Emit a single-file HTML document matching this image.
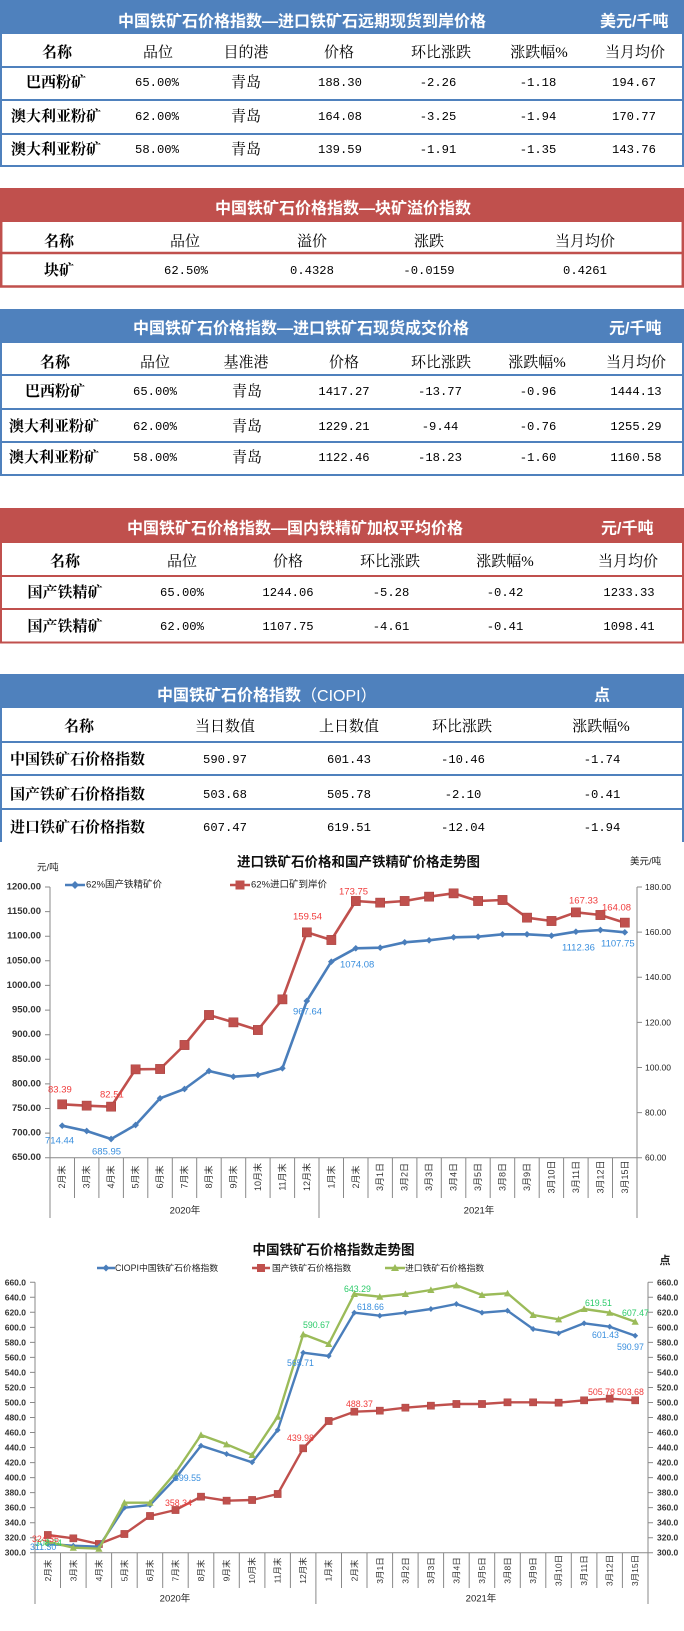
<!DOCTYPE html>
<html><head><meta charset="utf-8">
<style>
html,body{margin:0;padding:0;background:#fff;}
svg{display:block;}
text{dominant-baseline:central;}
.t{font-family:"Liberation Sans","Noto Sans CJK SC",sans-serif;font-weight:bold;font-size:16px;fill:#fff;}
.h{font-family:"Liberation Serif","Noto Serif CJK SC",serif;font-size:15px;fill:#000;text-anchor:middle;}
.hb{font-family:"Liberation Serif","Noto Serif CJK SC",serif;font-size:15px;font-weight:bold;fill:#000;text-anchor:middle;}
.hbl{font-family:"Liberation Serif","Noto Serif CJK SC",serif;font-size:15px;font-weight:bold;fill:#000;text-anchor:start;}
.n{font-family:"Liberation Mono",monospace;font-size:12.2px;fill:#000;text-anchor:middle;}
.ax{font-family:"Liberation Sans","Noto Sans CJK SC",sans-serif;font-size:9.5px;fill:#222;}
.ax2{font-family:"Liberation Sans","Noto Sans CJK SC",sans-serif;font-size:8.5px;fill:#333;font-weight:bold;}
.cat{font-family:"Liberation Sans","Noto Sans CJK SC",sans-serif;font-size:9px;fill:#333;text-anchor:middle;}
.cat2{font-family:"Liberation Sans","Noto Sans CJK SC",sans-serif;font-size:8.5px;fill:#333;text-anchor:middle;}
.ct{font-family:"Liberation Sans","Noto Sans CJK SC",sans-serif;font-size:13.5px;font-weight:bold;fill:#111;text-anchor:middle;}
.lg{font-family:"Liberation Sans","Noto Sans CJK SC",sans-serif;font-size:9.5px;fill:#222;}
.lb{font-family:"Liberation Sans",sans-serif;font-size:9.5px;}
.lb2{font-family:"Liberation Sans",sans-serif;font-size:8.8px;}
</style></head>
<body>
<svg width="684" height="1631" viewBox="0 0 684 1631" xmlns="http://www.w3.org/2000/svg">
<defs>
<marker id="dia" viewBox="-5 -5 10 10" markerWidth="8" markerHeight="8" markerUnits="userSpaceOnUse" refX="0" refY="0"><path d="M0,-4.2L4.2,0L0,4.2L-4.2,0Z" fill="#4a7ebb"/></marker>
<marker id="sq" viewBox="-5 -5 10 10" markerWidth="10" markerHeight="10" markerUnits="userSpaceOnUse" refX="0" refY="0"><rect x="-4.6" y="-4.6" width="9.2" height="9.2" fill="#c0504d" stroke="#a8403d" stroke-width="0.6"/></marker>
<marker id="dia2" viewBox="-5 -5 10 10" markerWidth="7" markerHeight="7" markerUnits="userSpaceOnUse" refX="0" refY="0"><path d="M0,-4.2L4.2,0L0,4.2L-4.2,0Z" fill="#4a7ebb"/></marker>
<marker id="sq2" viewBox="-5 -5 10 10" markerWidth="8" markerHeight="8" markerUnits="userSpaceOnUse" refX="0" refY="0"><rect x="-4.5" y="-4.5" width="9" height="9" fill="#c0504d" stroke="#a8403d" stroke-width="0.6"/></marker>
<marker id="tri2" viewBox="-5 -5 10 10" markerWidth="8" markerHeight="8" markerUnits="userSpaceOnUse" refX="0" refY="0"><path d="M0,-4.5L4.5,3.8L-4.5,3.8Z" fill="#9bbb59"/></marker>
</defs>

<!-- TABLE 1 -->
<rect x="0" y="0" width="684" height="34" fill="#4f81bd"/>
<text class="t" x="118" y="22">中国铁矿石价格指数—进口铁矿石远期现货到岸价格</text>
<text class="t" x="600" y="22">美元/千吨</text>
<path d="M1,34V166M683,34V166M0,67H684M0,100H684M0,134H684M0,166H684" stroke="#4f81bd" stroke-width="2" fill="none"/>
<text class="hb" x="57" y="53">名称</text>
<text class="h" x="158" y="53">品位</text>
<text class="h" x="246" y="53">目的港</text>
<text class="h" x="339" y="53">价格</text>
<text class="h" x="441" y="53">环比涨跌</text>
<text class="h" x="539" y="53">涨跌幅%</text>
<text class="h" x="635" y="53">当月均价</text>
<text class="hb" x="56" y="83">巴西粉矿</text><text class="n" x="157" y="83">65.00%</text><text class="h" x="246" y="83">青岛</text><text class="n" x="340" y="83">188.30</text><text class="n" x="438" y="83">-2.26</text><text class="n" x="538" y="83">-1.18</text><text class="n" x="634" y="83">194.67</text>
<text class="hb" x="56" y="117">澳大利亚粉矿</text><text class="n" x="157" y="117">62.00%</text><text class="h" x="246" y="117">青岛</text><text class="n" x="340" y="117">164.08</text><text class="n" x="438" y="117">-3.25</text><text class="n" x="538" y="117">-1.94</text><text class="n" x="634" y="117">170.77</text>
<text class="hb" x="56" y="150">澳大利亚粉矿</text><text class="n" x="157" y="150">58.00%</text><text class="h" x="246" y="150">青岛</text><text class="n" x="340" y="150">139.59</text><text class="n" x="438" y="150">-1.91</text><text class="n" x="538" y="150">-1.35</text><text class="n" x="634" y="150">143.76</text>

<!-- TABLE 2 -->
<rect x="0" y="188" width="684" height="34" fill="#c0504d"/>
<text class="t" x="343" y="209" style="text-anchor:middle">中国铁矿石价格指数—块矿溢价指数</text>
<path d="M1.2,222V287M682.8,222V287M0,253H684M0,286.5H684" stroke="#c0504d" stroke-width="2.5" fill="none"/>
<text class="hb" x="59" y="242">名称</text>
<text class="h" x="185" y="242">品位</text>
<text class="h" x="312" y="242">溢价</text>
<text class="h" x="429" y="242">涨跌</text>
<text class="h" x="585" y="242">当月均价</text>
<text class="hb" x="59" y="271">块矿</text><text class="n" x="186" y="271">62.50%</text><text class="n" x="312" y="271">0.4328</text><text class="n" x="429" y="271">-0.0159</text><text class="n" x="585" y="271">0.4261</text>

<!-- TABLE 3 -->
<rect x="0" y="309" width="684" height="34" fill="#4f81bd"/>
<text class="t" x="133" y="329">中国铁矿石价格指数—进口铁矿石现货成交价格</text>
<text class="t" x="609" y="329">元/千吨</text>
<path d="M1,343V475M683,343V475M0,375H684M0,409H684M0,442H684M0,475H684" stroke="#4f81bd" stroke-width="2" fill="none"/>
<text class="hb" x="55" y="363">名称</text>
<text class="h" x="155" y="363">品位</text>
<text class="h" x="246" y="363">基准港</text>
<text class="h" x="344" y="363">价格</text>
<text class="h" x="441" y="363">环比涨跌</text>
<text class="h" x="537" y="363">涨跌幅%</text>
<text class="h" x="636" y="363">当月均价</text>
<text class="hb" x="55" y="392">巴西粉矿</text><text class="n" x="155" y="392">65.00%</text><text class="h" x="247" y="392">青岛</text><text class="n" x="344" y="392">1417.27</text><text class="n" x="440" y="392">-13.77</text><text class="n" x="538" y="392">-0.96</text><text class="n" x="636" y="392">1444.13</text>
<text class="hb" x="54" y="427">澳大利亚粉矿</text><text class="n" x="155" y="427">62.00%</text><text class="h" x="247" y="427">青岛</text><text class="n" x="344" y="427">1229.21</text><text class="n" x="440" y="427">-9.44</text><text class="n" x="538" y="427">-0.76</text><text class="n" x="636" y="427">1255.29</text>
<text class="hb" x="54" y="458">澳大利亚粉矿</text><text class="n" x="155" y="458">58.00%</text><text class="h" x="247" y="458">青岛</text><text class="n" x="344" y="458">1122.46</text><text class="n" x="440" y="458">-18.23</text><text class="n" x="538" y="458">-1.60</text><text class="n" x="636" y="458">1160.58</text>

<!-- TABLE 4 -->
<rect x="0" y="508" width="684" height="35" fill="#c0504d"/>
<text class="t" x="127" y="529">中国铁矿石价格指数—国内铁精矿加权平均价格</text>
<text class="t" x="601" y="529">元/千吨</text>
<path d="M1,543V643M683,543V643M0,576H684M0,609H684M0,642.5H684" stroke="#c0504d" stroke-width="2" fill="none"/>
<text class="hb" x="65" y="562">名称</text>
<text class="h" x="182" y="562">品位</text>
<text class="h" x="288" y="562">价格</text>
<text class="h" x="390" y="562">环比涨跌</text>
<text class="h" x="505" y="562">涨跌幅%</text>
<text class="h" x="628" y="562">当月均价</text>
<text class="hb" x="65" y="593">国产铁精矿</text><text class="n" x="182" y="593">65.00%</text><text class="n" x="288" y="593">1244.06</text><text class="n" x="391" y="593">-5.28</text><text class="n" x="505" y="593">-0.42</text><text class="n" x="629" y="593">1233.33</text>
<text class="hb" x="65" y="627">国产铁精矿</text><text class="n" x="182" y="627">62.00%</text><text class="n" x="288" y="627">1107.75</text><text class="n" x="391" y="627">-4.61</text><text class="n" x="505" y="627">-0.41</text><text class="n" x="629" y="627">1098.41</text>

<!-- TABLE 5 -->
<rect x="0" y="674" width="684" height="34" fill="#4f81bd"/>
<text class="t" x="157" y="696">中国铁矿石价格指数<tspan font-weight="normal">（CIOPI）</tspan></text>
<text class="t" x="594" y="696">点</text>
<path d="M1,708V842M683,708V842M0,742H684M0,775H684M0,809H684" stroke="#4f81bd" stroke-width="2" fill="none"/>
<text class="hb" x="79" y="727">名称</text>
<text class="h" x="225" y="727">当日数值</text>
<text class="h" x="349" y="727">上日数值</text>
<text class="h" x="462" y="727">环比涨跌</text>
<text class="h" x="601" y="727">涨跌幅%</text>
<text class="hbl" x="10" y="760">中国铁矿石价格指数</text><text class="n" x="225" y="760">590.97</text><text class="n" x="349" y="760">601.43</text><text class="n" x="463" y="760">-10.46</text><text class="n" x="602" y="760">-1.74</text>
<text class="hbl" x="10" y="795">国产铁矿石价格指数</text><text class="n" x="225" y="795">503.68</text><text class="n" x="349" y="795">505.78</text><text class="n" x="463" y="795">-2.10</text><text class="n" x="602" y="795">-0.41</text>
<text class="hbl" x="10" y="828">进口铁矿石价格指数</text><text class="n" x="225" y="828">607.47</text><text class="n" x="349" y="828">619.51</text><text class="n" x="463" y="828">-12.04</text><text class="n" x="602" y="828">-1.94</text>

<!-- CHART 1 -->
<text class="ct" x="358.5" y="862">进口铁矿石价格和国产铁精矿价格走势图</text>
<text class="lg" x="37" y="868">元/吨</text>
<text class="lg" x="630" y="862">美元/吨</text>
<line x1="65" y1="885" x2="85" y2="885" stroke="#4a7ebb" stroke-width="2.5"/>
<path d="M75,881L79,885L75,889L71,885Z" fill="#4a7ebb"/>
<text class="lg" x="86" y="885">62%国产铁精矿价</text>
<line x1="230" y1="885" x2="250" y2="885" stroke="#c0504d" stroke-width="2.5"/>
<rect x="235.5" y="880.5" width="9" height="9" fill="#c0504d"/>
<text class="lg" x="251" y="885">62%进口矿到岸价</text>

<g stroke="#898989" stroke-width="1" fill="none">
<path d="M50,887V1157.7H637V887"/>
<path d="M45,887H50M45,911.6H50M45,936.2H50M45,960.8H50M45,985.4H50M45,1010.1H50M45,1034.7H50M45,1059.3H50M45,1083.9H50M45,1108.5H50M45,1133.1H50M45,1157.7H50"/>
<path d="M637,887H642M637,932.1H642M637,977.2H642M637,1022.4H642M637,1067.5H642M637,1112.6H642M637,1157.7H642"/>
<path d="M50,1157.7V1218M74.5,1157.7V1198M98.9,1157.7V1198M123.4,1157.7V1198M147.8,1157.7V1198M172.3,1157.7V1198M196.7,1157.7V1198M221.2,1157.7V1198M245.7,1157.7V1198M270.1,1157.7V1198M294.6,1157.7V1198M319,1157.7V1218M343.5,1157.7V1198M368,1157.7V1198M392.4,1157.7V1198M416.9,1157.7V1198M441.3,1157.7V1198M465.8,1157.7V1198M490.2,1157.7V1198M514.7,1157.7V1198M539.2,1157.7V1198M563.6,1157.7V1198M588.1,1157.7V1198M612.5,1157.7V1198M637,1157.7V1218"/>
</g>
<g class="ax" style="text-anchor:end;font-weight:bold;fill:#333">
<text x="41" y="887">1200.00</text><text x="41" y="911.6">1150.00</text><text x="41" y="936.2">1100.00</text><text x="41" y="960.8">1050.00</text><text x="41" y="985.4">1000.00</text><text x="41" y="1010.1">950.00</text><text x="41" y="1034.7">900.00</text><text x="41" y="1059.3">850.00</text><text x="41" y="1083.9">800.00</text><text x="41" y="1108.5">750.00</text><text x="41" y="1133.1">700.00</text><text x="41" y="1157.7">650.00</text>
</g>
<g class="ax" style="font-size:8.5px">
<text x="645" y="887">180.00</text><text x="645" y="932.1">160.00</text><text x="645" y="977.2">140.00</text><text x="645" y="1022.4">120.00</text><text x="645" y="1067.5">100.00</text><text x="645" y="1112.6">80.00</text><text x="645" y="1157.7">60.00</text>
</g>
<g class="cat">
<text transform="translate(62.2,1177) rotate(-90)">2月末</text>
<text transform="translate(86.7,1177) rotate(-90)">3月末</text>
<text transform="translate(111.1,1177) rotate(-90)">4月末</text>
<text transform="translate(135.6,1177) rotate(-90)">5月末</text>
<text transform="translate(160.1,1177) rotate(-90)">6月末</text>
<text transform="translate(184.5,1177) rotate(-90)">7月末</text>
<text transform="translate(209,1177) rotate(-90)">8月末</text>
<text transform="translate(233.4,1177) rotate(-90)">9月末</text>
<text transform="translate(257.9,1177) rotate(-90)">10月末</text>
<text transform="translate(282.4,1177) rotate(-90)">11月末</text>
<text transform="translate(306.8,1177) rotate(-90)">12月末</text>
<text transform="translate(331.3,1177) rotate(-90)">1月末</text>
<text transform="translate(355.8,1177) rotate(-90)">2月末</text>
<text transform="translate(380.2,1177) rotate(-90)">3月1日</text>
<text transform="translate(404.7,1177) rotate(-90)">3月2日</text>
<text transform="translate(429.1,1177) rotate(-90)">3月3日</text>
<text transform="translate(453.6,1177) rotate(-90)">3月4日</text>
<text transform="translate(478.1,1177) rotate(-90)">3月5日</text>
<text transform="translate(502.5,1177) rotate(-90)">3月8日</text>
<text transform="translate(527,1177) rotate(-90)">3月9日</text>
<text transform="translate(551.5,1177) rotate(-90)">3月10日</text>
<text transform="translate(575.9,1177) rotate(-90)">3月11日</text>
<text transform="translate(600.4,1177) rotate(-90)">3月12日</text>
<text transform="translate(624.8,1177) rotate(-90)">3月15日</text>
</g>
<text class="lg" x="185" y="1211" style="text-anchor:middle">2020年</text>
<text class="lg" x="479" y="1211" style="text-anchor:middle">2021年</text>

<polyline fill="none" stroke="#c0504d" stroke-width="2.6" stroke-linejoin="round" marker-start="url(#sq)" marker-mid="url(#sq)" marker-end="url(#sq)" points="62.2,1104.3 86.7,1105.7 111.1,1106.7 135.6,1069.3 160.1,1069.0 184.5,1045.0 209.0,1015.0 233.4,1022.3 257.9,1030.0 282.4,999.3 306.8,932.3 331.3,940.0 355.8,901.0 380.2,902.7 404.7,901.0 429.1,896.7 453.6,893.3 478.1,901.0 502.5,900.0 527.0,917.7 551.5,921.0 575.9,912.3 600.4,915.0 624.8,922.7"/>
<polyline fill="none" stroke="#4a7ebb" stroke-width="2.6" stroke-linejoin="round" marker-start="url(#dia)" marker-mid="url(#dia)" marker-end="url(#dia)" points="62.2,1125.7 86.7,1131.0 111.1,1139.0 135.6,1125.0 160.1,1098.3 184.5,1089.0 209.0,1071.0 233.4,1076.7 257.9,1075.0 282.4,1068.3 306.8,1001.0 331.3,961.7 355.8,948.3 380.2,947.7 404.7,942.3 429.1,940.3 453.6,937.3 478.1,936.7 502.5,934.3 527.0,934.3 551.5,935.7 575.9,931.7 600.4,930.0 624.8,932.3"/>
<g class="lb" fill="#f03c3c">
<text x="48" y="1090">83.39</text><text x="100" y="1095">82.51</text><text x="293" y="917">159.54</text><text x="339" y="892">173.75</text><text x="569" y="901">167.33</text><text x="602" y="908">164.08</text>
</g>
<g class="lb" fill="#3a8fde">
<text x="45" y="1141">714.44</text><text x="92" y="1152">685.95</text><text x="293" y="1012">967.64</text><text x="340" y="965">1074.08</text><text x="562" y="948">1112.36</text><text x="601" y="944">1107.75</text>
</g>

<!-- CHART 2 -->
<text class="ct" x="333.5" y="1250">中国铁矿石价格指数走势图</text>
<line x1="97" y1="1268" x2="115" y2="1268" stroke="#4a7ebb" stroke-width="2.5"/>
<path d="M106,1264.5L109.5,1268L106,1271.5L102.5,1268Z" fill="#4a7ebb"/>
<text class="lg" x="115" y="1268" style="font-size:8.8px">CIOPI中国铁矿石价格指数</text>
<line x1="252" y1="1268" x2="270" y2="1268" stroke="#c0504d" stroke-width="2.5"/>
<rect x="257" y="1264" width="8" height="8" fill="#c0504d"/>
<text class="lg" x="272" y="1268" style="font-size:8.8px">国产铁矿石价格指数</text>
<line x1="385" y1="1268" x2="405" y2="1268" stroke="#9bbb59" stroke-width="2.5"/>
<path d="M395,1264L399,1271L391,1271Z" fill="#9bbb59"/>
<text class="lg" x="405" y="1268" style="font-size:8.8px">进口铁矿石价格指数</text>
<text class="lg" x="665" y="1261" style="text-anchor:middle;font-size:11px;font-weight:bold">点</text>

<g stroke="#898989" stroke-width="1" fill="none">
<path d="M35,1282.3V1552.7H648V1282.3"/>
<path d="M30,1282.3H35M30,1297.3H35M30,1312.3H35M30,1327.4H35M30,1342.4H35M30,1357.4H35M30,1372.4H35M30,1387.5H35M30,1402.5H35M30,1417.5H35M30,1432.5H35M30,1447.5H35M30,1462.6H35M30,1477.6H35M30,1492.6H35M30,1507.6H35M30,1522.7H35M30,1537.7H35M30,1552.7H35"/>
<path d="M648,1282.3H653M648,1297.3H653M648,1312.3H653M648,1327.4H653M648,1342.4H653M648,1357.4H653M648,1372.4H653M648,1387.5H653M648,1402.5H653M648,1417.5H653M648,1432.5H653M648,1447.5H653M648,1462.6H653M648,1477.6H653M648,1492.6H653M648,1507.6H653M648,1522.7H653M648,1537.7H653M648,1552.7H653"/>
<path d="M35,1552.7V1604M60.5,1552.7V1588M86.1,1552.7V1588M111.6,1552.7V1588M137.2,1552.7V1588M162.7,1552.7V1588M188.2,1552.7V1588M213.8,1552.7V1588M239.3,1552.7V1588M264.9,1552.7V1588M290.4,1552.7V1588M315.9,1552.7V1604M341.5,1552.7V1588M367,1552.7V1588M392.6,1552.7V1588M418.1,1552.7V1588M443.6,1552.7V1588M469.2,1552.7V1588M494.7,1552.7V1588M520.3,1552.7V1588M545.8,1552.7V1588M571.3,1552.7V1588M596.9,1552.7V1588M622.4,1552.7V1588M648,1552.7V1604"/>
</g>
<g class="ax2" style="text-anchor:end">
<text x="26" y="1282.3">660.0</text><text x="26" y="1297.3">640.0</text><text x="26" y="1312.3">620.0</text><text x="26" y="1327.4">600.0</text><text x="26" y="1342.4">580.0</text><text x="26" y="1357.4">560.0</text><text x="26" y="1372.4">540.0</text><text x="26" y="1387.5">520.0</text><text x="26" y="1402.5">500.0</text><text x="26" y="1417.5">480.0</text><text x="26" y="1432.5">460.0</text><text x="26" y="1447.5">440.0</text><text x="26" y="1462.6">420.0</text><text x="26" y="1477.6">400.0</text><text x="26" y="1492.6">380.0</text><text x="26" y="1507.6">360.0</text><text x="26" y="1522.7">340.0</text><text x="26" y="1537.7">320.0</text><text x="26" y="1552.7">300.0</text>
</g>
<g class="ax2">
<text x="657" y="1282.3">660.0</text><text x="657" y="1297.3">640.0</text><text x="657" y="1312.3">620.0</text><text x="657" y="1327.4">600.0</text><text x="657" y="1342.4">580.0</text><text x="657" y="1357.4">560.0</text><text x="657" y="1372.4">540.0</text><text x="657" y="1387.5">520.0</text><text x="657" y="1402.5">500.0</text><text x="657" y="1417.5">480.0</text><text x="657" y="1432.5">460.0</text><text x="657" y="1447.5">440.0</text><text x="657" y="1462.6">420.0</text><text x="657" y="1477.6">400.0</text><text x="657" y="1492.6">380.0</text><text x="657" y="1507.6">360.0</text><text x="657" y="1522.7">340.0</text><text x="657" y="1537.7">320.0</text><text x="657" y="1552.7">300.0</text>
</g>
<g class="cat2">
<text transform="translate(47.8,1570.5) rotate(-90)">2月末</text>
<text transform="translate(73.3,1570.5) rotate(-90)">3月末</text>
<text transform="translate(98.9,1570.5) rotate(-90)">4月末</text>
<text transform="translate(124.4,1570.5) rotate(-90)">5月末</text>
<text transform="translate(150,1570.5) rotate(-90)">6月末</text>
<text transform="translate(175.5,1570.5) rotate(-90)">7月末</text>
<text transform="translate(201,1570.5) rotate(-90)">8月末</text>
<text transform="translate(226.6,1570.5) rotate(-90)">9月末</text>
<text transform="translate(252.1,1570.5) rotate(-90)">10月末</text>
<text transform="translate(277.7,1570.5) rotate(-90)">11月末</text>
<text transform="translate(303.2,1570.5) rotate(-90)">12月末</text>
<text transform="translate(328.7,1570.5) rotate(-90)">1月末</text>
<text transform="translate(354.3,1570.5) rotate(-90)">2月末</text>
<text transform="translate(379.8,1570.5) rotate(-90)">3月1日</text>
<text transform="translate(405.4,1570.5) rotate(-90)">3月2日</text>
<text transform="translate(430.9,1570.5) rotate(-90)">3月3日</text>
<text transform="translate(456.4,1570.5) rotate(-90)">3月4日</text>
<text transform="translate(482,1570.5) rotate(-90)">3月5日</text>
<text transform="translate(507.5,1570.5) rotate(-90)">3月8日</text>
<text transform="translate(533.1,1570.5) rotate(-90)">3月9日</text>
<text transform="translate(558.6,1570.5) rotate(-90)">3月10日</text>
<text transform="translate(584.1,1570.5) rotate(-90)">3月11日</text>
<text transform="translate(609.7,1570.5) rotate(-90)">3月12日</text>
<text transform="translate(635.2,1570.5) rotate(-90)">3月15日</text>
</g>
<text class="lg" x="175" y="1599" style="text-anchor:middle">2020年</text>
<text class="lg" x="481" y="1599" style="text-anchor:middle">2021年</text>

<polyline fill="none" stroke="#c0504d" stroke-width="2.4" stroke-linejoin="round" marker-start="url(#sq2)" marker-mid="url(#sq2)" marker-end="url(#sq2)" points="47.8,1535.0 73.3,1538.3 98.9,1544.0 124.4,1534.0 150.0,1516.0 175.5,1510.0 201.0,1496.7 226.6,1500.7 252.1,1500.0 277.7,1494.0 303.2,1448.3 328.7,1421.0 354.3,1411.7 379.8,1410.7 405.4,1407.7 430.9,1405.7 456.4,1404.0 482.0,1404.0 507.5,1402.3 533.1,1402.3 558.6,1402.7 584.1,1400.3 609.7,1398.7 635.2,1400.3"/>
<polyline fill="none" stroke="#4a7ebb" stroke-width="2.4" stroke-linejoin="round" marker-start="url(#dia2)" marker-mid="url(#dia2)" marker-end="url(#dia2)" points="47.8,1544.0 73.3,1545.7 98.9,1546.7 124.4,1507.7 150.0,1505.0 175.5,1478.3 201.0,1445.7 226.6,1454.0 252.1,1462.3 277.7,1430.0 303.2,1352.7 328.7,1356.0 354.3,1312.7 379.8,1315.7 405.4,1312.7 430.9,1309.0 456.4,1304.0 482.0,1312.7 507.5,1310.7 533.1,1329.0 558.6,1333.3 584.1,1323.3 609.7,1326.7 635.2,1335.7"/>
<polyline fill="none" stroke="#9bbb59" stroke-width="2.4" stroke-linejoin="round" marker-start="url(#tri2)" marker-mid="url(#tri2)" marker-end="url(#tri2)" points="47.8,1541.7 73.3,1547.7 98.9,1548.7 124.4,1502.7 150.0,1502.7 175.5,1472.7 201.0,1435.0 226.6,1444.3 252.1,1455.0 277.7,1416.7 303.2,1334.3 328.7,1344.0 354.3,1294.0 379.8,1296.7 405.4,1294.0 430.9,1290.0 456.4,1285.3 482.0,1295.0 507.5,1293.3 533.1,1315.0 558.6,1319.3 584.1,1309.0 609.7,1312.7 635.2,1321.7"/>
<g class="lb2" fill="#2ccb6a">
<text x="344" y="1289">643.29</text><text x="585" y="1303">619.51</text><text x="622" y="1313">607.47</text><text x="303" y="1325">590.67</text><text x="35" y="1543">308.74</text>
</g>
<g class="lb2" fill="#3a8fde">
<text x="357" y="1307">618.66</text><text x="592" y="1335">601.43</text><text x="617" y="1347">590.97</text><text x="287" y="1363">565.71</text><text x="174" y="1478">399.55</text><text x="30" y="1547">311.30</text>
</g>
<g class="lb2" fill="#f03c3c">
<text x="346" y="1404">488.37</text><text x="588" y="1392">505.78</text><text x="617" y="1392">503.68</text><text x="287" y="1438">439.98</text><text x="165" y="1503">358.34</text><text x="32" y="1539">324.35</text>
</g>
</svg>
</body></html>
